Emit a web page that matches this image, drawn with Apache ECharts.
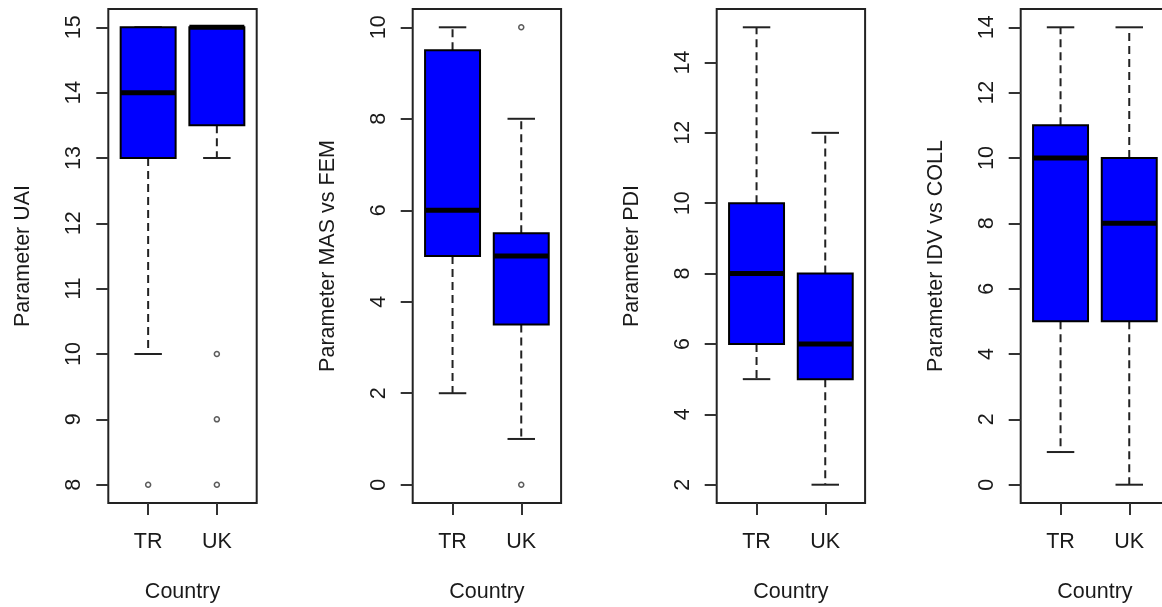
<!DOCTYPE html>
<html>
<head>
<meta charset="utf-8">
<script src="https://cdn.jsdelivr.net/npm/echarts@6/dist/echarts.min.js"></script>
<style>
html,body{margin:0;padding:0;background:#fff;}
#chart{width:1162px;height:607px;}
</style>
</head>
<body>
<div id="chart"></div>
<script>
// ---- data ----
const countries = ['TR', 'UK'];
const xTitle = 'Country';

const uaiTitle = 'Parameter UAI';
const uaiStats = [[10, 13, 14, 15, 15], [13, 13.5, 15, 15, 15]]; // [low, q1, median, q3, high]
const uaiOutliers = [[8], [10, 9, 8]];
const uaiTicks = [8, 9, 10, 11, 12, 13, 14, 15];

const masTitle = 'Parameter MAS vs FEM';
const masStats = [[2, 5, 6, 9.5, 10], [1, 3.5, 5, 5.5, 8]];
const masOutliers = [[], [10, 0]];
const masTicks = [0, 2, 4, 6, 8, 10];

const pdiTitle = 'Parameter PDI';
const pdiStats = [[5, 6, 8, 10, 15], [2, 5, 6, 8, 12]];
const pdiOutliers = [[], []];
const pdiTicks = [2, 4, 6, 8, 10, 12, 14];

const idvTitle = 'Parameter IDV vs COLL';
const idvStats = [[1, 5, 10, 11, 14], [0, 5, 8, 10, 14]];
const idvOutliers = [[], []];
const idvTicks = [0, 2, 4, 6, 8, 10, 12, 14];

// ---- layout / style ----
const panels = [
  {title: uaiTitle, stats: uaiStats, out: uaiOutliers, ticks: uaiTicks, left: 108.3},
  {title: masTitle, stats: masStats, out: masOutliers, ticks: masTicks, left: 412.7},
  {title: pdiTitle, stats: pdiStats, out: pdiOutliers, ticks: pdiTicks, left: 716.7},
  {title: idvTitle, stats: idvStats, out: idvOutliers, ticks: idvTicks, left: 1020.7}
];
const FONT = 'Liberation Sans, Arial, sans-serif';
const FS = 21.5;
const INK = '#1a1a1a';

const grids = [], xAxes = [], yAxes = [], series = [];
panels.forEach((p, i) => {
  let lo = Infinity, hi = -Infinity;
  p.stats.forEach((s, k) => {
    s.concat(p.out[k]).forEach(v => { lo = Math.min(lo, v); hi = Math.max(hi, v); });
  });
  const pad = (hi - lo) * 0.04;
  grids.push({left: p.left, top: 9, width: 148.4, height: 494, show: true,
    outerBoundsMode: 'none', containLabel: false,
    borderColor: '#222', borderWidth: 2, backgroundColor: 'transparent'});
  xAxes.push({type: 'value', gridIndex: i, min: 0.42, max: 2.58,
    axisLine: {show: false, onZero: false}, splitLine: {show: false},
    name: xTitle, nameLocation: 'middle', nameGap: 78,
    nameTextStyle: {fontFamily: FONT, fontSize: FS, color: INK},
    axisTick: {show: true, customValues: [1, 2], length: 12, lineStyle: {color: '#333', width: 2}},
    axisLabel: {customValues: [1, 2], margin: 28, fontFamily: FONT, fontSize: FS, color: INK,
      formatter: v => countries[Math.round(v) - 1]}
  });
  yAxes.push({type: 'value', gridIndex: i, min: lo - pad, max: hi + pad,
    axisLine: {show: false, onZero: false}, splitLine: {show: false},
    name: p.title, nameLocation: 'middle', nameRotate: 90, nameGap: 74,
    nameTextStyle: {fontFamily: FONT, fontSize: FS, color: INK},
    axisTick: {show: true, customValues: p.ticks, length: 12, lineStyle: {color: '#333', width: 2}},
    axisLabel: {customValues: p.ticks, rotate: 90, margin: 23, fontFamily: FONT, fontSize: FS, color: INK}
  });
  series.push({
    type: 'custom', xAxisIndex: i, yAxisIndex: i, coordinateSystem: 'cartesian2d',
    clip: false, silent: true,
    encode: {x: 0, y: [1, 2, 3, 4, 5]},
    data: p.stats.map((s, k) => [k + 1].concat(s)),
    renderItem: function (params, api) {
      const x = api.value(0);
      const low = api.value(1), q1 = api.value(2), med = api.value(3), q3 = api.value(4), high = api.value(5);
      const hw = api.size([0.8, 0])[0] / 2;
      const cw = hw / 2;
      const cx = api.coord([x, med])[0];
      const y = v => api.coord([x, v])[1];
      const dash = {stroke: '#222', lineWidth: 2, lineDash: [8, 5]};
      const solid = {stroke: '#222', lineWidth: 2};
      const ch = [];
      if (high > q3) ch.push({type: 'line', shape: {x1: cx, y1: y(q3), x2: cx, y2: y(high)}, style: dash});
      if (low < q1) ch.push({type: 'line', shape: {x1: cx, y1: y(q1), x2: cx, y2: y(low)}, style: dash});
      ch.push({type: 'line', shape: {x1: cx - cw, y1: y(high), x2: cx + cw, y2: y(high)}, style: solid});
      ch.push({type: 'line', shape: {x1: cx - cw, y1: y(low), x2: cx + cw, y2: y(low)}, style: solid});
      ch.push({type: 'rect', shape: {x: cx - hw, y: y(q3), width: 2 * hw, height: y(q1) - y(q3)},
        style: {fill: '#0000FF', stroke: '#000', lineWidth: 2}});
      ch.push({type: 'line', shape: {x1: cx - hw, y1: y(med), x2: cx + hw, y2: y(med)},
        style: {stroke: '#000', lineWidth: 5}});
      return {type: 'group', children: ch};
    }
  });
  const outPts = [];
  p.out.forEach((arr, k) => arr.forEach(v => outPts.push([k + 1, v])));
  series.push({
    type: 'scatter', xAxisIndex: i, yAxisIndex: i, silent: true,
    symbol: 'circle', symbolSize: 5,
    itemStyle: {color: '#fff', borderColor: '#333', borderWidth: 1.5},
    data: outPts
  });
});

const chart = echarts.init(document.getElementById('chart'), null, {renderer: 'canvas'});
chart.setOption({
  animation: false,
  backgroundColor: '#fff',
  grid: grids, xAxis: xAxes, yAxis: yAxes, series: series
});
</script>
</body>
</html>
